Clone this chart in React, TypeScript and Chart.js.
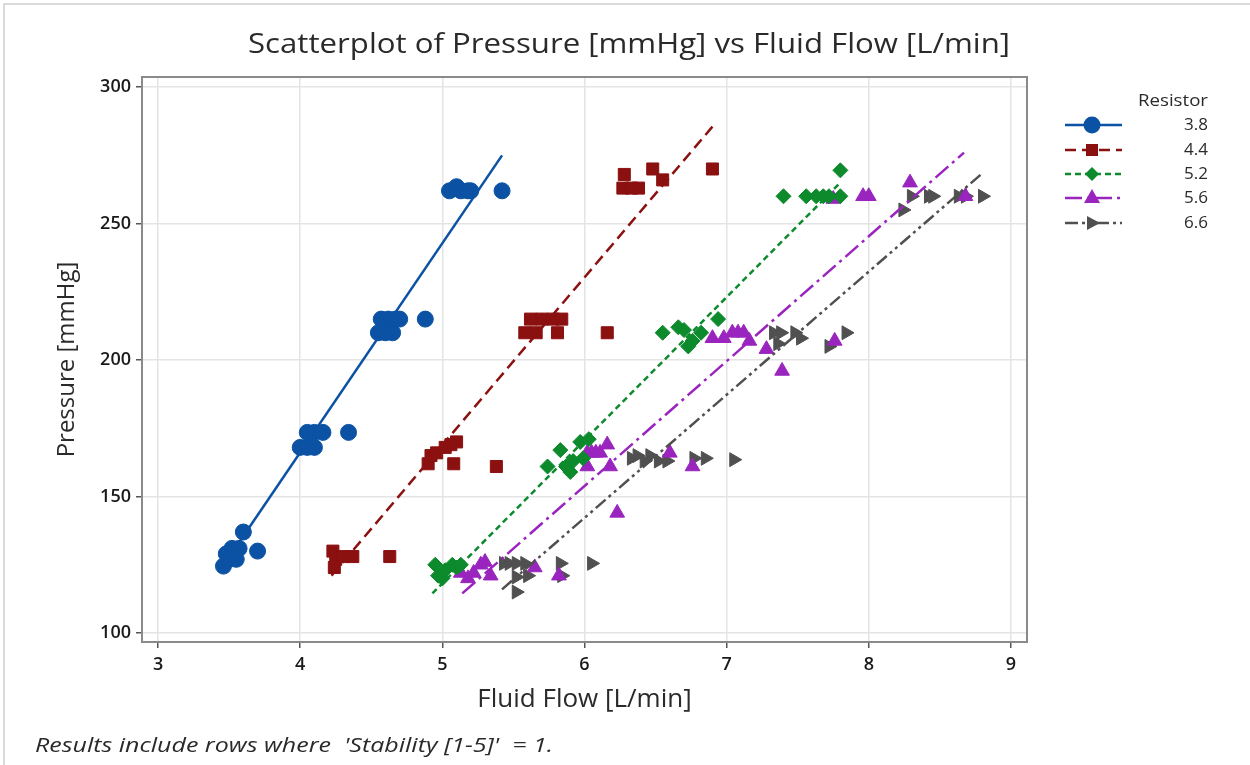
import React, { useEffect, useRef } from "react";
import { Chart, registerables } from "chart.js";

Chart.register(...registerables);

// ---- data ----
const resistorLabels = ["3.8", "4.4", "5.2", "5.6", "6.6"];

const flow38 = [3.46, 3.5, 3.55, 3.48, 3.52, 3.57, 3.53, 3.6, 3.7, 4.0, 4.05, 4.1, 4.05, 4.1, 4.16, 4.34, 4.55, 4.6, 4.65, 4.57, 4.62, 4.67, 4.7, 4.88, 5.05, 5.1, 5.13, 5.18, 5.2, 5.42];
const pressure38 = [124.5, 127, 127, 129, 131, 131, 129, 137, 130, 168, 168, 168, 173.5, 173.5, 173.5, 173.5, 210, 210, 210, 215, 215, 215, 215, 215, 262, 263.5, 262, 262, 262, 262];

const flow44 = [4.23, 4.25, 4.24, 4.3, 4.37, 4.63, 4.9, 4.92, 4.96, 5.02, 5.06, 5.1, 5.08, 5.38, 5.58, 5.66, 5.81, 6.16, 5.62, 5.7, 5.78, 5.84, 6.27, 6.33, 6.38, 6.28, 6.48, 6.55, 6.9];
const pressure44 = [130, 127, 124, 128, 128, 128, 162, 165, 166, 168, 169, 170, 162, 161, 210, 210, 210, 210, 215, 215, 215, 215, 263, 263, 263, 268, 270, 266, 270];

const flow52 = [4.95, 4.97, 5.0, 5.02, 5.07, 5.1, 5.13, 5.74, 5.83, 5.87, 5.9, 5.92, 5.97, 5.99, 6.03, 6.55, 6.66, 6.7, 6.73, 6.76, 6.82, 6.94, 7.4, 7.56, 7.63, 7.68, 7.72, 7.8, 7.8];
const pressure52 = [125, 121, 120, 123, 125, 124, 125, 161, 167, 161, 159, 163, 170, 164, 171, 210, 212, 211, 205, 207, 210, 215, 260, 260, 260, 260, 260, 260, 269.5];

const flow56 = [5.13, 5.18, 5.22, 5.27, 5.3, 5.34, 5.65, 5.82, 6.02, 6.05, 6.08, 6.11, 6.16, 6.02, 6.18, 6.23, 6.6, 6.76, 6.9, 6.98, 7.04, 7.08, 7.12, 7.16, 7.28, 7.39, 7.76, 7.75, 7.96, 8.0, 8.29, 8.68];
const pressure56 = [122, 120, 122, 125, 126, 121, 124, 121, 166, 166, 166, 166, 169, 161, 161, 144, 166, 161, 208, 208, 210, 210, 210, 207, 204, 196, 207, 259, 260, 260, 265, 260];

const flow66 = [5.43, 5.47, 5.52, 5.58, 5.52, 5.6, 5.52, 5.83, 5.84, 6.05, 6.33, 6.37, 6.42, 6.46, 6.52, 6.58, 6.77, 6.85, 7.05, 7.33, 7.38, 7.36, 7.48, 7.52, 7.72, 7.84, 8.24, 8.3, 8.42, 8.45, 8.63, 8.68, 8.8];
const pressure66 = [125.5, 125.5, 125.5, 125.5, 120.5, 121, 115, 125.5, 121, 125.5, 164, 165, 163, 165, 163, 163, 164, 164, 163.5, 210, 210, 206, 210, 208, 205, 210, 255, 260, 260, 260, 260, 260, 260];

// fitted regression lines: [start, end]
const fitFlow38 = [3.45, 5.42];
const fitPressure38 = [124, 275];
const fitFlow44 = [4.22, 6.9];
const fitPressure44 = [121, 285.5];
const fitFlow52 = [4.93, 7.8];
const fitPressure52 = [114.5, 265];
const fitFlow56 = [5.14, 8.67];
const fitPressure56 = [114.5, 276];
const fitFlow66 = [5.42, 8.8];
const fitPressure66 = [116, 268.5];

const flowTicks = [3, 4, 5, 6, 7, 8, 9];
const pressureTicks = [100, 150, 200, 250, 300];

const chartTitle = "Scatterplot of Pressure [mmHg] vs Fluid Flow [L/min]";
const xTitle = "Fluid Flow [L/min]";
const yTitle = "Pressure [mmHg]";
const legendTitle = "Resistor";
const footnote = "Results include rows where  'Stability [1-5]'  = 1.";

// ---- styles ----
const FONT = "'Open Sans', 'Noto Sans', sans-serif";
const TEXT = "#2a2a2a";
const colors = ["#0B52A5", "#8B1010", "#0C8A2C", "#9A24BE", "#505050"];
const dashes: number[][] = [[], [11, 6], [6, 4], [17, 5, 3, 5], [13, 4, 3, 4, 3, 4]];
const shapes = ["circle", "rect", "rectRot", "triangle", "triangle"];
const rotations = [0, 0, 0, 0, 90];
const radii = [8, 8.5, 7.5, 8.5, 8];

const series = [
  { xs: flow38, ys: pressure38, fx: fitFlow38, fy: fitPressure38 },
  { xs: flow44, ys: pressure44, fx: fitFlow44, fy: fitPressure44 },
  { xs: flow52, ys: pressure52, fx: fitFlow52, fy: fitPressure52 },
  { xs: flow56, ys: pressure56, fx: fitFlow56, fy: fitPressure56 },
  { xs: flow66, ys: pressure66, fx: fitFlow66, fy: fitPressure66 },
];

// draws text stretched horizontally to a given width
function fitText(
  ctx: CanvasRenderingContext2D,
  text: string,
  x: number,
  y: number,
  font: string,
  width: number,
  align: CanvasTextAlign
) {
  ctx.save();
  ctx.font = font;
  ctx.textAlign = align;
  ctx.textBaseline = "middle";
  const w = ctx.measureText(text).width || 1;
  ctx.translate(x, y);
  ctx.scale(width / w, 1);
  ctx.fillText(text, 0, 0);
  ctx.restore();
}

function drawMarker(ctx: CanvasRenderingContext2D, i: number, x: number, y: number) {
  ctx.save();
  ctx.fillStyle = colors[i];
  ctx.setLineDash([]);
  ctx.beginPath();
  if (i === 0) {
    ctx.arc(x, y, 8.5, 0, Math.PI * 2);
  } else if (i === 1) {
    ctx.rect(x - 6, y - 6, 12, 12);
  } else if (i === 2) {
    ctx.moveTo(x, y - 7);
    ctx.lineTo(x + 7, y);
    ctx.lineTo(x, y + 7);
    ctx.lineTo(x - 7, y);
  } else if (i === 3) {
    ctx.moveTo(x, y - 9);
    ctx.lineTo(x + 8, y + 5);
    ctx.lineTo(x - 8, y + 5);
  } else {
    ctx.moveTo(x + 8, y);
    ctx.lineTo(x - 5, y - 7);
    ctx.lineTo(x - 5, y + 7);
  }
  ctx.closePath();
  ctx.fill();
  ctx.restore();
}

const decorPlugin = {
  id: "decor",
  beforeDraw(chart: any) {
    const ctx: CanvasRenderingContext2D = chart.ctx;
    ctx.save();
    ctx.fillStyle = "#ffffff";
    ctx.fillRect(0, 0, chart.width, chart.height);
    // page edge lines
    ctx.strokeStyle = "#dadada";
    ctx.lineWidth = 2;
    ctx.beginPath();
    ctx.moveTo(4, chart.height);
    ctx.lineTo(4, 4);
    ctx.lineTo(chart.width, 4);
    ctx.stroke();
    ctx.restore();
  },
  afterDraw(chart: any) {
    const ctx: CanvasRenderingContext2D = chart.ctx;
    const a = chart.chartArea;
    ctx.save();
    // plot frame
    ctx.strokeStyle = "#8a8a8a";
    ctx.lineWidth = 2;
    ctx.strokeRect(a.left, a.top, a.right - a.left, a.bottom - a.top);

    ctx.fillStyle = TEXT;
    // title
    fitText(ctx, chartTitle, 629, 45, `28px ${FONT}`, 762, "center");
    // footnote
    fitText(ctx, footnote, 35, 746, `italic 20px ${FONT}`, 518, "left");
    // legend
    fitText(ctx, legendTitle, 1208, 101, `16px ${FONT}`, 70, "right");
    const rowY = [125, 150, 174, 198, 223];
    resistorLabels.forEach((lab, i) => {
      const y = rowY[i];
      ctx.save();
      ctx.strokeStyle = colors[i];
      ctx.lineWidth = 2.5;
      ctx.setLineDash(dashes[i]);
      ctx.beginPath();
      ctx.moveTo(1065, y);
      ctx.lineTo(1122, y);
      ctx.stroke();
      ctx.restore();
      drawMarker(ctx, i, 1092, y);
      ctx.fillStyle = TEXT;
      ctx.font = `17px ${FONT}`;
      ctx.textAlign = "right";
      ctx.textBaseline = "middle";
      ctx.fillText(lab, 1208, y);
    });
    ctx.restore();
  },
};

export default function App() {
  const ref = useRef<HTMLCanvasElement | null>(null);

  useEffect(() => {
    if (!ref.current) return;
    const datasets: any[] = [];
    series.forEach((s, i) => {
      datasets.push({
        label: resistorLabels[i],
        data: s.xs.map((x, k) => ({ x, y: s.ys[k] })),
        showLine: false,
        pointStyle: shapes[i],
        rotation: rotations[i],
        pointRadius: radii[i],
        pointBackgroundColor: colors[i],
        pointBorderColor: colors[i],
        pointBorderWidth: 1,
        order: 2,
      });
      datasets.push({
        label: resistorLabels[i] + " fit",
        data: s.fx.map((x, k) => ({ x, y: s.fy[k] })),
        showLine: true,
        pointRadius: 0,
        borderColor: colors[i],
        borderWidth: 2.5,
        borderDash: dashes[i],
        fill: false,
        order: 1,
      });
    });

    const gridCommon = {
      color: "#e4e4e4",
      lineWidth: 1.5,
      drawTicks: true,
      tickLength: 6,
      tickColor: "#555555",
      tickWidth: 1.5,
    };

    const chart = new Chart(ref.current, {
      type: "scatter",
      data: { datasets },
      options: {
        animation: false,
        responsive: false,
        devicePixelRatio: 1,
        layout: { padding: { top: 77, right: 223, bottom: 0, left: 0 } },
        plugins: {
          legend: { display: false },
          tooltip: { enabled: false },
          title: { display: false },
        },
        scales: {
          x: {
            type: "linear",
            min: 2.887,
            max: 9.113,
            afterBuildTicks: (s: any) => {
              s.ticks = flowTicks.map((v) => ({ value: v }));
            },
            afterFit: (s: any) => {
              s.height = 123;
            },
            grid: gridCommon,
            border: { display: false },
            ticks: {
              color: "#1a1a1a",
              padding: 6,
              font: { family: FONT, size: 18, weight: "600" },
              callback: (v: any) => String(v),
            },
            title: {
              display: true,
              text: xTitle,
              color: TEXT,
              font: { family: FONT, size: 26 },
              padding: { top: 0, bottom: 50 },
            },
          },
          y: {
            type: "linear",
            min: 96.7,
            max: 303.7,
            afterBuildTicks: (s: any) => {
              s.ticks = pressureTicks.map((v) => ({ value: v }));
            },
            afterFit: (s: any) => {
              s.width = 142;
            },
            grid: gridCommon,
            border: { display: false },
            ticks: {
              color: "#1a1a1a",
              padding: 5,
              font: { family: FONT, size: 18, weight: "600" },
              callback: (v: any) => String(v),
            },
            title: {
              display: true,
              text: yTitle,
              color: TEXT,
              font: { family: FONT, size: 24 },
              padding: { top: 53, bottom: 0 },
            },
          },
        },
      } as any,
      plugins: [decorPlugin],
    });
    return () => chart.destroy();
  }, []);

  return (
    <div style={{ position: "absolute", left: 0, top: 0, width: 1250, height: 765, background: "#fff" }}>
      <canvas ref={ref} width={1250} height={765} style={{ display: "block" }} />
    </div>
  );
}
